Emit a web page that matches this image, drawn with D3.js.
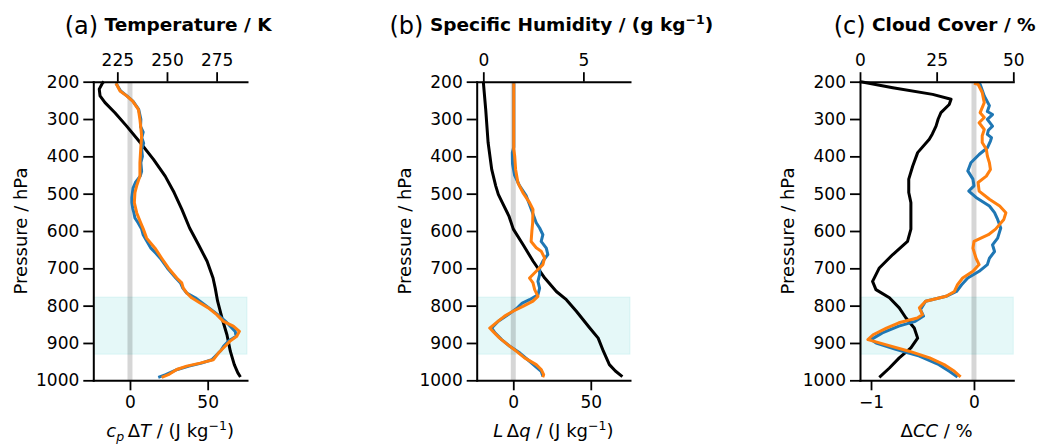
<!DOCTYPE html>
<html>
<head>
<meta charset="utf-8">
<script src="https://cdn.jsdelivr.net/npm/d3@7"></script>
<style>
  body { margin: 0; background: #fff; }
  text { font-family: "DejaVu Sans", sans-serif; }
</style>
</head>
<body>
<svg id="chart" width="1042" height="444"></svg>
<script>

// pressure axis + shaded layer
const pTicks = [200, 300, 400, 500, 600, 700, 800, 900, 1000];
const bandLayer = [777, 930];

// (a) temperature: mean profile (K) and cp*dT anomalies (J/kg), [p, value]
const tempMean = [[200,218.2],[203,217.6],[220,215.9],[238,216.3],[256,218.8],[283,223.8],[319,229.7],[363,236.5],[408,243.2],[453,249.1],[497,253.6],[542,257.5],[592,261.4],[637,265.9],[681,270.2],[726,273.2],[753,274.3],[788,275.5],[833,277.7],[878,280.2],[922,281.9],[958,283.9],[980,285.7],[991,287]];
const cpdT_blue = [[204,-9.0],[225,-6.0],[238,-2.0],[252,1.9],[274,5.6],[301,7.0],[320,6.8],[335,8.5],[350,7.6],[365,8.8],[381,7.5],[400,8.0],[417,7.0],[440,7.5],[453,6.6],[470,3.5],[485,2.0],[497,1.6],[510,1.2],[524,1.2],[540,1.8],[551,2.5],[565,3.2],[578,5.2],[595,7.5],[610,8.5],[625,10.5],[646,13.5],[660,16.8],[673,19.5],[699,24.0],[726,29.5],[739,32.5],[753,34.0],[766,36.5],[779,42.0],[793,46.5],[806,50.8],[824,56.5],[842,61.5],[855,64.5],[869,67.7],[882,68.3],[895,63.4],[909,60.2],[920,58.5],[935,55.0],[945,52.6],[954,46.0],[962,38.0],[971,30.5],[985,23.0],[992,18.2]];
const cpdT_orange = [[204,-9.0],[225,-6.4],[238,-2.1],[252,1.7],[274,5.4],[301,6.4],[345,7.5],[381,6.9],[417,6.4],[453,6.4],[479,4.3],[497,3.2],[524,2.8],[551,4.3],[578,6.9],[595,8.6],[619,10.7],[646,16.1],[673,20.4],[699,24.7],[726,30.1],[739,33.3],[753,34.3],[766,36.5],[779,39.7],[793,45.1],[806,50.4],[824,55.8],[842,60.1],[855,66.5],[869,70.4],[882,68.7],[895,64.4],[909,61.2],[927,56.9],[945,53.6],[954,45.1],[962,36.5],[971,30.1],[985,24.7],[992,20.4]];

// (b) specific humidity: mean (g/kg) and L*dq anomalies (J/kg)
const humMean = [[200,0.0],[274,0.12],[363,0.24],[435,0.42],[479,0.62],[502,0.75],[524,0.95],[560,1.28],[595,1.5],[637,1.99],[681,2.49],[726,3.07],[762,3.65],[784,4.15],[815,4.65],[860,5.32],[887,5.74],[922,6.0],[958,6.3],[975,6.6],[990,6.95]];
const Ldq_blue = [[204,0.3],[375,0.3],[390,-0.6],[420,-0.5],[450,0.8],[479,4.1],[506,8.4],[542,11.6],[578,14.8],[592,17.0],[610,19.1],[628,18.0],[646,21.3],[663,22.3],[681,19.1],[699,17.0],[717,17.0],[735,15.9],[753,17.0],[771,15.9],[784,10.5],[793,5.8],[806,2.6],[824,-3.2],[842,-9.7],[860,-13.9],[873,-11.8],[891,-7.5],[909,-2.2],[927,4.3],[949,10.5],[976,18.0],[989,19.1]];
const Ldq_orange = [[204,0.3],[381,0.3],[399,0.9],[435,1.5],[471,3.0],[497,6.2],[524,10.5],[542,12.7],[578,12.5],[600,12.0],[628,11.5],[645,14.8],[654,18.0],[672,20.2],[690,19.1],[708,14.8],[726,10.5],[732,11.5],[739,12.7],[757,13.8],[775,15.9],[788,12.7],[802,6.2],[815,-0.2],[828,-5.6],[842,-9.9],[860,-15.2],[869,-13.1],[887,-8.8],[905,-3.4],[922,1.9],[940,7.3],[958,14.8],[971,18.0],[985,19.6],[992,19.0]];

// (c) cloud cover: mean (%) and dCC anomalies (%)
const cloudMean = [[200,0.3],[216,10.7],[234,23.7],[247,29.7],[261,29.1],[283,26.4],[300,25.5],[319,24.8],[340,23.6],[354,22.6],[390,18.8],[426,17.2],[461,15.9],[497,15.9],[524,16.6],[595,16.6],[628,15.5],[663,10.7],[699,6.3],[735,4.1],[757,5.2],[779,9.6],[806,12.8],[833,15.0],[860,17.7],[887,18.8],[913,16.6],[940,12.8],[967,9.6],[992,6.3]];
const dCC_blue = [[204,0.03],[207,0.06],[238,0.10],[264,0.15],[280,0.13],[288,0.18],[301,0.13],[319,0.18],[330,0.14],[341,0.13],[350,0.17],[359,0.16],[377,0.13],[395,0.05],[417,-0.03],[439,-0.06],[461,-0.01],[479,0.0],[493,-0.05],[510,0.02],[533,0.15],[551,0.20],[569,0.23],[592,0.26],[619,0.23],[637,0.18],[655,0.20],[673,0.15],[690,0.13],[708,0.05],[726,-0.06],[744,-0.12],[762,-0.17],[775,-0.27],[788,-0.47],[811,-0.52],[828,-0.49],[842,-0.57],[855,-0.73],[873,-0.89],[891,-1.0],[900,-0.95],[917,-0.76],[935,-0.53],[958,-0.34],[976,-0.24],[991,-0.16]];
const dCC_orange = [[204,0.0],[207,0.04],[229,0.08],[256,0.10],[283,0.06],[296,0.10],[310,0.05],[328,0.10],[345,0.08],[363,0.08],[381,0.12],[399,0.13],[417,0.15],[435,0.16],[453,0.12],[470,0.04],[493,0.05],[515,0.15],[533,0.25],[551,0.31],[569,0.29],[595,0.21],[610,0.14],[628,0.0],[646,-0.01],[673,0.02],[690,0.05],[708,-0.01],[726,-0.11],[744,-0.16],[762,-0.19],[775,-0.27],[788,-0.47],[806,-0.53],[824,-0.50],[833,-0.55],[846,-0.73],[860,-0.85],[878,-0.98],[891,-1.03],[905,-0.85],[922,-0.63],[940,-0.43],[958,-0.29],[976,-0.19],[991,-0.13]];

const svg = d3.select('#chart');

const top_ = 81.7, bottom_ = 380.3;
const y = d3.scaleLinear().domain([200, 1000]).range([top_, bottom_]);
const fmt = d3.format('d');

function styleAxis(ax) {
  ax.select('.domain').attr('stroke', '#000').attr('stroke-width', 2).attr('stroke-linecap', 'square');
  ax.selectAll('.tick line').attr('stroke', '#000').attr('stroke-width', 1.8);
  ax.selectAll('.tick text').attr('fill', '#000').style('font-size', '17px').style('font-family', '"DejaVu Sans"');
}

function panel(cfg) {
  const g = svg.append('g').attr('id', cfg.id);
  const xb = d3.scaleLinear().domain(cfg.botDomain).range([cfg.left, cfg.right]);
  const xt = d3.scaleLinear().domain(cfg.topDomain).range([cfg.left, cfg.right]);

  // shaded layer
  g.append('rect')
    .attr('x', cfg.left).attr('width', cfg.right - cfg.left)
    .attr('y', y(bandLayer[0])).attr('height', y(bandLayer[1]) - y(bandLayer[0]))
    .attr('fill', '#00bfbf').attr('fill-opacity', 0.1)
    .attr('stroke', '#00bfbf').attr('stroke-opacity', 0.1);

  // zero line
  g.append('line')
    .attr('x1', xb(0)).attr('x2', xb(0)).attr('y1', top_).attr('y2', bottom_)
    .attr('stroke', '#000').attr('stroke-opacity', 0.16).attr('stroke-width', 5);

  const lineTop = d3.line().x(d => xt(d[1])).y(d => y(d[0]));
  const lineBot = d3.line().x(d => xb(d[1])).y(d => y(d[0]));

  g.append('path').datum(cfg.mean)
    .attr('d', lineTop).attr('fill', 'none')
    .attr('stroke', '#000').attr('stroke-width', 3).attr('stroke-linejoin', 'round');

  g.selectAll('.anom').data([[cfg.blue, '#1f77b4'], [cfg.orange, '#ff7f0e']])
    .join('path')
    .attr('class', 'anom')
    .attr('d', d => lineBot(d[0]))
    .attr('fill', 'none')
    .attr('stroke', d => d[1]).attr('stroke-width', 3).attr('stroke-linejoin', 'round');

  // axes
  let ax = g.append('g').attr('transform', `translate(${cfg.left},0)`)
    .call(d3.axisLeft(y).tickValues(pTicks).tickFormat(fmt).tickSize(10).tickPadding(4).tickSizeOuter(0));
  styleAxis(ax);

  ax = g.append('g').attr('transform', `translate(0,${bottom_})`)
    .call(d3.axisBottom(xb).tickValues(cfg.botTicks).tickFormat(fmt).tickSize(10).tickPadding(6).tickSizeOuter(0));
  styleAxis(ax);

  ax = g.append('g').attr('transform', `translate(0,${top_})`)
    .call(d3.axisTop(xt).tickValues(cfg.topTicks).tickFormat(fmt).tickSize(9.5).tickPadding(6.5).tickSizeOuter(0));
  styleAxis(ax);

  const cx = (cfg.left + cfg.right) / 2;

  // y label
  g.append('text')
    .attr('transform', `translate(${cfg.left - 66},${(top_ + bottom_) / 2}) rotate(-90)`)
    .attr('text-anchor', 'middle')
    .style('font-size', '18px')
    .text('Pressure / hPa');

  // title
  const t = g.append('text')
    .attr('x', cx - 2).attr('y', 33.5)
    .attr('text-anchor', 'middle');
  t.append('tspan').style('font-size', '24px').text(cfg.tag);
  t.append('tspan').attr('dy', -2.8).style('font-size', '18.5px').style('font-weight', 'bold').text(' ' + cfg.title);
  if (cfg.titleSup) {
    t.append('tspan').attr('dy', -7).style('font-size', '12.5px').style('font-weight', 'bold').text(cfg.titleSup);
    t.append('tspan').attr('dy', 7).style('font-size', '18.5px').style('font-weight', 'bold').text(')');
  }

  // x label (bottom)
  const xl = g.append('text')
    .attr('x', cx).attr('y', 437)
    .attr('text-anchor', 'middle')
    .style('font-size', '18px');
  cfg.xlabel.forEach(p => {
    const s = xl.append('tspan').text(p.t);
    if (p.i) s.style('font-style', 'italic');
    if (p.dy) s.attr('dy', p.dy);
    if (p.fs) s.style('font-size', p.fs);
  });
}

panel({
  id: 'pa', tag: '(a)', title: 'Temperature / K',
  left: 93.3, right: 247,
  botDomain: [-23.6, 75.3], topDomain: [212.9, 290.3],
  botTicks: [0, 50], topTicks: [225, 250, 275],
  mean: tempMean, blue: cpdT_blue, orange: cpdT_orange,
  xlabel: [
    {t: 'c', i: true}, {t: 'p', i: true, dy: 4, fs: '12.5px'},
    {t: '\u2009Δ', dy: -4}, {t: 'T', i: true},
    {t: ' / (J kg'}, {t: '\u22121', dy: -7, fs: '12.5px'}, {t: ')', dy: 7}
  ]
});

panel({
  id: 'pb', tag: '(b)', title: 'Specific Humidity / (g kg', titleSup: '\u22121',
  left: 476.7, right: 630,
  botDomain: [-23.6, 75.3], topDomain: [-0.33, 7.33],
  botTicks: [0, 50], topTicks: [0, 5],
  mean: humMean, blue: Ldq_blue, orange: Ldq_orange,
  xlabel: [
    {t: 'L', i: true}, {t: '\u2009Δ'}, {t: 'q', i: true},
    {t: ' / (J kg'}, {t: '\u22121', dy: -7, fs: '12.5px'}, {t: ')', dy: 7}
  ]
});

panel({
  id: 'pc', tag: '(c)', title: 'Cloud Cover / %',
  left: 860, right: 1013.3,
  botDomain: [-1.107, 0.382], topDomain: [0, 50],
  botTicks: [-1, 0], topTicks: [0, 25, 50],
  mean: cloudMean, blue: dCC_blue, orange: dCC_orange,
  xlabel: [
    {t: 'Δ'}, {t: 'CC', i: true}, {t: ' / %'}
  ]
});

</script>
</body>
</html>
